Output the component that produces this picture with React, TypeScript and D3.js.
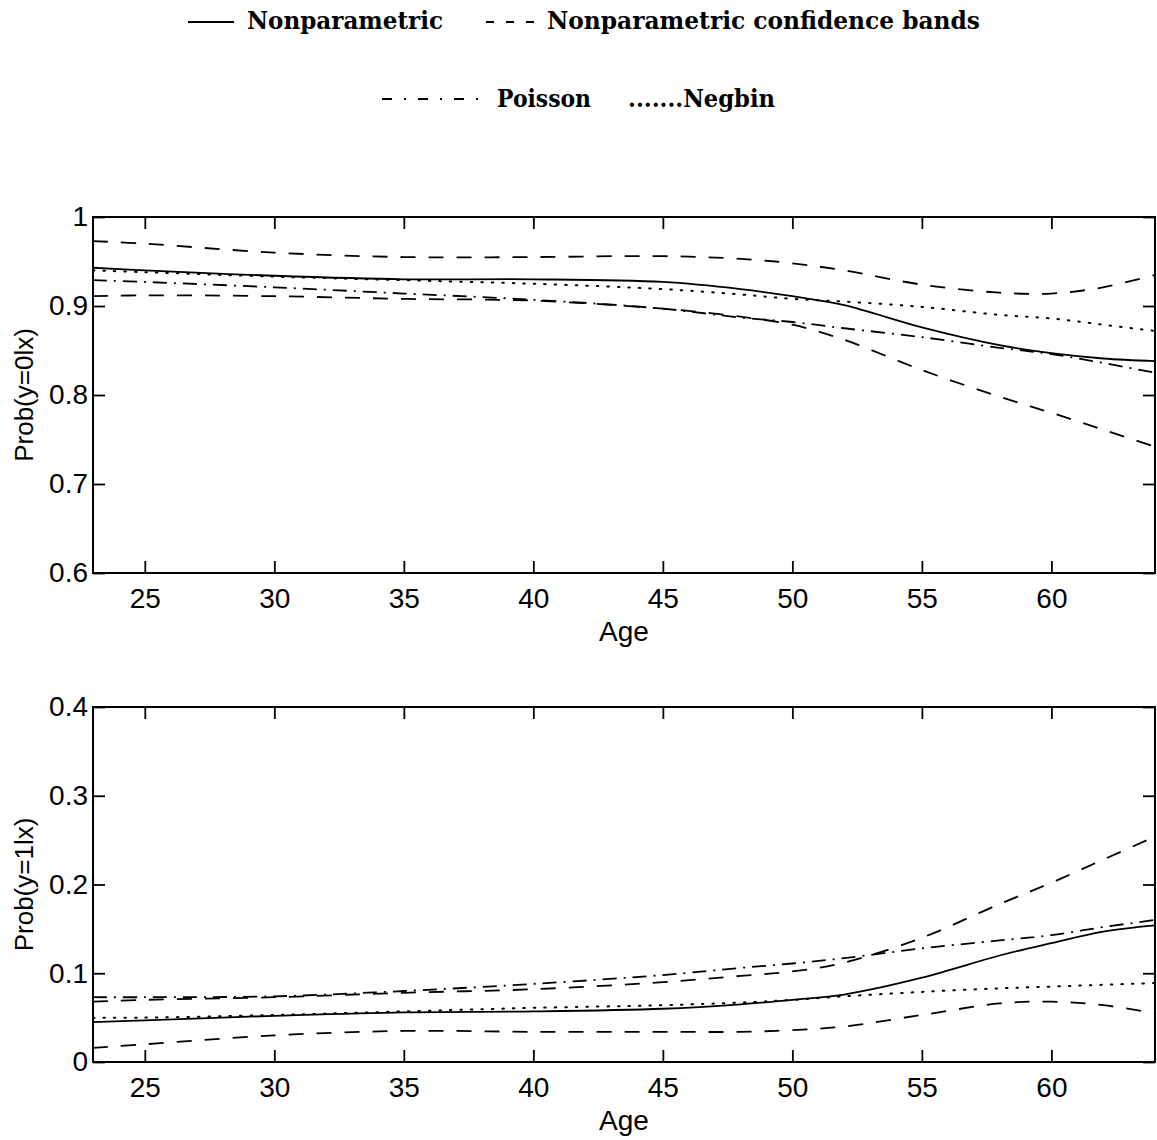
import React, { useEffect, useRef } from "react";
import * as d3 from "d3";

const ages = [23, 25, 30, 35, 40, 45, 48, 50, 52, 55, 58, 60, 62, 64];

// Prob(y=0|x)
const nonpar0 = [0.943, 0.94, 0.934, 0.93, 0.93, 0.927, 0.919, 0.911, 0.901, 0.876, 0.856, 0.847, 0.841, 0.838];
const upper0 = [0.973, 0.97, 0.96, 0.955, 0.955, 0.956, 0.953, 0.948, 0.94, 0.924, 0.915, 0.914, 0.921, 0.935];
const lower0 = [0.911, 0.912, 0.911, 0.908, 0.906, 0.897, 0.888, 0.879, 0.862, 0.828, 0.798, 0.78, 0.761, 0.742];
const poisson0 = [0.929, 0.927, 0.921, 0.914, 0.907, 0.897, 0.887, 0.882, 0.875, 0.865, 0.853, 0.846, 0.836, 0.825];
const negbin0 = [0.94, 0.938, 0.933, 0.929, 0.925, 0.919, 0.913, 0.908, 0.905, 0.899, 0.89, 0.886, 0.879, 0.872];

// Prob(y=1|x)
const nonpar1 = [0.045, 0.047, 0.052, 0.056, 0.057, 0.06, 0.065, 0.07, 0.076, 0.095, 0.12, 0.134, 0.147, 0.154];
const upper1 = [0.068, 0.07, 0.073, 0.078, 0.082, 0.09, 0.097, 0.102, 0.112, 0.14, 0.178, 0.202, 0.228, 0.254];
const lower1 = [0.016, 0.02, 0.03, 0.035, 0.034, 0.034, 0.034, 0.036, 0.04, 0.053, 0.066, 0.068, 0.064, 0.055];
const poisson1 = [0.073, 0.073, 0.074, 0.08, 0.088, 0.098, 0.106, 0.111, 0.117, 0.128, 0.137, 0.143, 0.152, 0.16];
const negbin1 = [0.05, 0.05, 0.053, 0.057, 0.061, 0.064, 0.067, 0.07, 0.074, 0.079, 0.083, 0.085, 0.087, 0.089];

const xTicks = [25, 30, 35, 40, 45, 50, 55, 60];
const yTicks0 = [0.6, 0.7, 0.8, 0.9, 1];
const yTicks1 = [0, 0.1, 0.2, 0.3, 0.4];

const W = 1157;
const H = 1140;
const left = 93;
const right = 1155;
const sans = "'Liberation Sans', Arial, Helvetica, sans-serif";
const serif = "'DejaVu Serif', 'Liberation Serif', serif";

const dash = {
  solid: null,
  band: "15,13",
  poisson: "14,7,2,7",
  negbin: "1.5,9",
};

const panels = [
  {
    top: 217,
    bottom: 573,
    domain: [0.6, 1],
    ticks: yTicks0,
    label: "Prob(y=0lx)",
    lines: [
      [nonpar0, dash.solid],
      [upper0, dash.band],
      [lower0, dash.band],
      [poisson0, dash.poisson],
      [negbin0, dash.negbin],
    ],
  },
  {
    top: 707,
    bottom: 1062,
    domain: [0, 0.4],
    ticks: yTicks1,
    label: "Prob(y=1lx)",
    lines: [
      [nonpar1, dash.solid],
      [upper1, dash.band],
      [lower1, dash.band],
      [poisson1, dash.poisson],
      [negbin1, dash.negbin],
    ],
  },
];

const App = () => {
  const ref = useRef<SVGSVGElement>(null);

  useEffect(() => {
    const svg = d3.select(ref.current);
    svg.selectAll("*").remove();

    const x = d3.scaleLinear().domain([23, 64]).range([left, right]);

    // legend (two rows, centred above the panels)
    const lg = svg.append("g").attr("font-family", serif).attr("font-weight", "bold").attr("font-size", 24);
    lg.append("line").attr("x1", 188).attr("x2", 234).attr("y1", 22).attr("y2", 22).attr("stroke", "#000").attr("stroke-width", 1.8);
    lg.append("text").attr("x", 247).attr("y", 29).attr("textLength", 196).attr("lengthAdjust", "spacingAndGlyphs").text("Nonparametric");
    lg.append("line").attr("x1", 486).attr("x2", 534).attr("y1", 22).attr("y2", 22).attr("stroke", "#000").attr("stroke-width", 2.2).attr("stroke-dasharray", "8,12");
    lg.append("text").attr("x", 547).attr("y", 29).attr("textLength", 433).attr("lengthAdjust", "spacingAndGlyphs").text("Nonparametric confidence bands");
    lg.append("line").attr("x1", 382).attr("x2", 486).attr("y1", 99).attr("y2", 99).attr("stroke", "#000").attr("stroke-width", 1.8).attr("stroke-dasharray", "10,12,2,12");
    lg.append("text").attr("x", 497).attr("y", 107).attr("textLength", 94).attr("lengthAdjust", "spacingAndGlyphs").text("Poisson");
    lg.append("text").attr("x", 628).attr("y", 107).attr("textLength", 147).attr("lengthAdjust", "spacingAndGlyphs").text(".......Negbin");

    panels.forEach((p) => {
      const y = d3.scaleLinear().domain(p.domain).range([p.bottom, p.top]);
      const g = svg.append("g");

      const line = d3
        .line<number>()
        .curve(d3.curveCatmullRom.alpha(0.5))
        .x((_, i) => x(ages[i]))
        .y((d) => y(d));

      p.lines.forEach(([vals, da]) => {
        g.append("path")
          .datum(vals as number[])
          .attr("d", line)
          .attr("fill", "none")
          .attr("stroke", "#000")
          .attr("stroke-width", da === dash.negbin ? 2 : 1.8)
          .attr("stroke-linecap", da === dash.negbin ? "round" : "butt")
          .attr("stroke-dasharray", da as string);
      });

      // axes with inward ticks on all four sides
      const styleAxis = (a) => {
        a.select(".domain").remove();
        a.selectAll(".tick line").attr("stroke", "#000").attr("stroke-width", 1.8);
        a.selectAll("text").attr("fill", "#000").attr("font-size", 28).attr("font-family", sans);
      };

      g.append("g")
        .attr("transform", `translate(0,${p.bottom})`)
        .call(d3.axisBottom(x).tickValues(xTicks).tickSize(-12).tickPadding(15).tickFormat((d) => String(d)))
        .call(styleAxis);
      g.append("g")
        .attr("transform", `translate(0,${p.top})`)
        .call(d3.axisTop(x).tickValues(xTicks).tickSize(-12).tickFormat(() => ""))
        .call(styleAxis);
      g.append("g")
        .attr("transform", `translate(${left},0)`)
        .call(d3.axisLeft(y).tickValues(p.ticks).tickSize(-12).tickPadding(5).tickFormat((d) => String(+d)))
        .call(styleAxis);
      g.append("g")
        .attr("transform", `translate(${right},0)`)
        .call(d3.axisRight(y).tickValues(p.ticks).tickSize(-12).tickFormat(() => ""))
        .call(styleAxis);

      g.append("rect")
        .attr("x", left)
        .attr("y", p.top)
        .attr("width", right - left)
        .attr("height", p.bottom - p.top)
        .attr("fill", "none")
        .attr("stroke", "#000")
        .attr("stroke-width", 2);

      g.append("text")
        .attr("x", (left + right) / 2)
        .attr("y", p.bottom + 68)
        .attr("text-anchor", "middle")
        .attr("font-family", sans)
        .attr("font-size", 28)
        .text("Age");

      g.append("text")
        .attr("transform", `translate(33,${(p.top + p.bottom) / 2}) rotate(-90)`)
        .attr("text-anchor", "middle")
        .attr("font-family", sans)
        .attr("font-size", 26)
        .text(p.label);
    });
  }, []);

  return (
    <svg
      ref={ref}
      width={W}
      height={H}
      style={{ position: "absolute", left: 0, top: 0, background: "#fff" }}
    />
  );
};

export default App;
